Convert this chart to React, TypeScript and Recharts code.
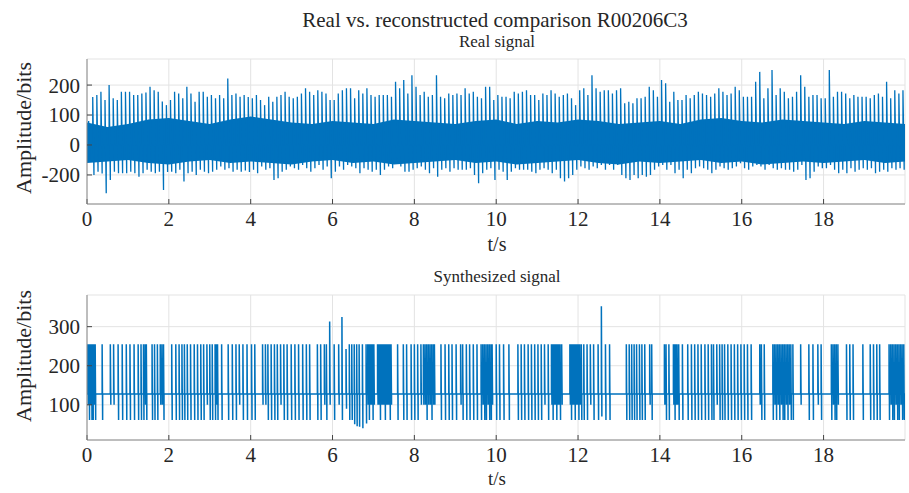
import { Area, CartesianGrid, ComposedChart, Line, XAxis, YAxis } from "recharts";

const BLUE = "#0072BD";
const FONT = "Liberation Serif, Times New Roman, serif";
const TEXT = "#262626";

const xTicks = [0, 2, 4, 6, 8, 10, 12, 14, 16, 18];
const realYTicks = [-100, 0, 100, 200];
const realYTickLabels = ["-200", "0", "100", "200"];
const synthYTicks = [100, 200, 300];

// real signal: one up/down spike pair every 0.1 s
const spikeStep = 0.1;
const realUp = [
  80, 160, 167, 178, 150, 200, 156, 150, 178, 178, 178, 167, 167, 172, 175, 194, 183, 178, 145, 133,
  150, 178, 172, 156, 194, 172, 144, 178, 178, 161, 167, 156, 167, 156, 222, 167, 172, 161, 167, 160,
  156, 167, 150, 133, 161, 144, 161, 167, 178, 161, 156, 161, 172, 189, 178, 167, 183, 178, 172, 150,
  150, 172, 183, 189, 189, 156, 183, 172, 189, 167, 161, 167, 167, 167, 161, 211, 189, 217, 172, 233,
  194, 167, 178, 161, 167, 233, 161, 156, 172, 167, 172, 167, 189, 172, 178, 161, 156, 194, 194, 150,
  167, 161, 161, 156, 178, 172, 178, 183, 167, 167, 150, 172, 167, 183, 172, 161, 167, 172, 156, 133,
  183, 189, 167, 233, 189, 178, 183, 183, 172, 183, 189, 139, 144, 139, 156, 156, 161, 194, 183, 161,
  217, 206, 144, 178, 150, 150, 167, 156, 167, 178, 172, 167, 161, 172, 189, 178, 167, 172, 194, 183,
  161, 161, 161, 211, 244, 156, 189, 250, 167, 189, 178, 156, 161, 178, 233, 194, 161, 167, 167, 156,
  156, 250, 161, 178, 178, 172, 156, 167, 161, 161, 161, 156, 167, 172, 161, 211, 156, 183, 172, 183,
];
const realDown = [
  -50, -100, -89, -95, -161, -117, -89, -94, -94, -94, -89, -94, -106, -94, -83, -89, -94, -89, -150, -90,
  -89, -94, -83, -122, -94, -89, -100, -83, -89, -94, -89, -83, -72, -83, -78, -89, -83, -89, -85, -90,
  -83, -94, -72, -83, -78, -117, -111, -89, -83, -72, -78, -83, -67, -78, -89, -78, -67, -83, -72, -111,
  -89, -72, -83, -67, -72, -78, -94, -78, -83, -89, -83, -100, -83, -72, -78, -56, -72, -89, -89, -83,
  -78, -72, -83, -94, -78, -106, -83, -78, -89, -78, -83, -83, -83, -78, -100, -128, -94, -83, -78, -117,
  -83, -89, -117, -89, -78, -83, -83, -83, -89, -94, -83, -78, -83, -94, -83, -111, -122, -111, -100, -83,
  -72, -78, -83, -72, -78, -67, -83, -67, -83, -67, -100, -111, -117, -100, -111, -100, -106, -100, -83, -72,
  -67, -83, -67, -94, -83, -111, -83, -94, -78, -72, -78, -83, -94, -83, -72, -78, -83, -78, -72, -61,
  -78, -83, -72, -67, -72, -83, -67, -78, -83, -78, -83, -83, -89, -83, -67, -117, -111, -89, -72, -78,
  -78, -67, -83, -94, -83, -94, -78, -89, -83, -78, -83, -78, -94, -89, -83, -89, -78, -83, -78, -83,
];
// dense noise core, sampled every 0.5 s
const bandStep = 0.5;
const bandHigh = [
  75, 60, 70, 85, 90, 80, 70, 85, 95, 85, 75, 70, 80, 75, 70, 85, 80, 75, 70, 80, 85,
  70, 80, 75, 85, 80, 70, 75, 80, 70, 85, 90, 80, 75, 85, 80, 75, 70, 80, 75, 70,
];
const bandLow = [
  -60, -55, -50, -60, -65, -55, -50, -60, -55, -60, -65, -55, -50, -60, -55, -65, -60, -55, -50, -60, -55,
  -65, -60, -55, -50, -60, -65, -55, -60, -55, -50, -60, -55, -65, -60, -55, -60, -55, -50, -60, -55,
];

// synthesized signal: baseline 128, pulses clipped at 255
const synthBase = 128;
const synthHigh = 255;
const synthTimes = [
  0.02, 0.05, 0.08, 0.11, 0.14, 0.17, 0.2,
  0.37, 0.57, 0.65, 0.76, 0.86, 0.96, 1.05, 1.15, 1.25, 1.32, 1.38, 1.42, 1.45, 1.59, 1.65, 1.72, 1.79, 1.83, 1.87,
  2.07, 2.17, 2.25, 2.32, 2.38, 2.45, 2.53, 2.62, 2.7, 2.78, 2.85, 2.93, 3.0, 3.06, 3.13, 3.16, 3.19, 3.29,
  3.45, 3.55, 3.64, 3.72, 3.81, 3.91, 4.02, 4.1,
  4.29, 4.36, 4.42, 4.5, 4.58, 4.65, 4.73, 4.81, 4.89, 4.99, 5.08, 5.17, 5.27, 5.36, 5.44,
  5.63, 5.71, 5.8, 5.85, 5.93, 6.04, 6.15, 6.23, 6.33, 6.41, 6.47, 6.53, 6.59, 6.65, 6.73, 6.82,
  6.86, 6.89, 6.92, 6.95, 6.98, 7.01,
  7.1, 7.13, 7.16, 7.19, 7.22, 7.25, 7.28, 7.31, 7.34, 7.37, 7.4, 7.43,
  7.59, 7.73, 7.81, 7.92, 8.0, 8.08, 8.16,
  8.22, 8.26, 8.3, 8.34, 8.38, 8.42, 8.46, 8.49,
  8.65, 8.75, 8.84, 8.92, 9.02, 9.13, 9.18, 9.27, 9.35, 9.44, 9.53,
  9.63, 9.67, 9.71, 9.75, 9.79, 9.83, 9.87, 9.9,
  10.0, 10.08, 10.18, 10.31,
  10.53, 10.61, 10.69, 10.78, 10.86, 10.94, 11.02, 11.1, 11.18, 11.27,
  11.35, 11.38, 11.41, 11.44, 11.47, 11.5, 11.53, 11.56, 11.6,
  11.8, 11.83, 11.86, 11.89, 11.92, 11.95, 11.98, 12.01, 12.04, 12.08,
  12.14, 12.22, 12.3, 12.38, 12.49, 12.57, 12.67, 12.77,
  13.18, 13.25, 13.31, 13.37, 13.43, 13.5, 13.56, 13.63, 13.75, 13.8,
  14.11, 14.15, 14.22, 14.33, 14.36, 14.39, 14.42, 14.46, 14.55, 14.68, 14.77, 14.85, 14.93, 15.01, 15.1,
  15.18, 15.26, 15.31, 15.39, 15.46, 15.52, 15.58, 15.66, 15.74, 15.82, 15.9, 15.98, 16.06, 16.14, 16.23,
  16.44, 16.48, 16.55,
  16.76, 16.8, 16.84, 16.88, 16.92, 16.96, 17.0, 17.04, 17.08, 17.12, 17.16, 17.2, 17.25,
  17.44, 17.64, 17.74, 17.86, 17.94,
  18.19, 18.23, 18.27, 18.31, 18.35, 18.56, 18.64, 18.72, 18.96, 19.14, 19.22, 19.3, 19.37,
  19.6, 19.64, 19.68, 19.72, 19.76, 19.8, 19.84, 19.88, 19.92, 19.96,
];
const synthLow = [
  100, 61, 100, 61, 61, 100, 61,
  61, 100, 100, 61, 61, 61, 61, 61, 61, 61, 61, 100, 61, 61, 61, 61, 100, 100, 61,
  61, 61, 61, 61, 61, 61, 61, 61, 61, 61, 61, 100, 61, 61, 61, 100, 61, 61,
  61, 61, 61, 100, 61, 61, 61, 61,
  100, 100, 61, 61, 61, 61, 100, 61, 61, 61, 61, 61, 61, 61, 61,
  61, 61, 100, 61, 100, 61, 100, 61, 90, 61, 61, 50, 45, 44, 40, 52,
  100, 61, 100, 100, 61, 100,
  100, 100, 61, 100, 100, 100, 61, 100, 100, 100, 61, 100,
  61, 61, 61, 61, 61, 61, 100,
  100, 100, 61, 100, 100, 61, 100, 100,
  61, 61, 61, 61, 61, 100, 61, 61, 61, 61, 61,
  61, 100, 61, 61, 100, 61, 61, 100,
  61, 61, 61, 61,
  61, 61, 61, 61, 61, 61, 61, 61, 100, 61,
  100, 61, 100, 100, 61, 100, 100, 61, 100,
  100, 61, 100, 100, 61, 100, 100, 61, 100, 61,
  61, 61, 100, 61, 61, 70, 61, 61,
  61, 61, 61, 61, 61, 61, 61, 61, 100, 61,
  100, 61, 61, 100, 61, 100, 100, 61, 61, 61, 61, 61, 61, 61, 61,
  61, 61, 61, 100, 61, 61, 61, 61, 61, 61, 61, 61, 61, 61, 61,
  100, 61, 61,
  61, 100, 61, 100, 61, 100, 61, 61, 100, 61, 100, 61, 61,
  100, 61, 61, 100, 61,
  61, 100, 61, 61, 100, 61, 61, 61, 61, 61, 61, 61, 61,
  61, 100, 61, 61, 100, 61, 61, 100, 61, 61,
];
// pulses that overshoot the 255 clip
const peakTimes = [5.93, 6.23, 6.33, 12.57];
const peakValues = [313, 325, 243, 352];

const X_END = 19.99;

const realLine: { t: number; v: number }[] = [{ t: 0, v: 0 }];
realUp.forEach((up, i) => {
  const t = +(i * spikeStep + 0.04).toFixed(3);
  realLine.push({ t, v: 0 }, { t, v: up }, { t: t + 0.03, v: realDown[i] }, { t: t + 0.03, v: 0 });
});
realLine.push({ t: X_END, v: 0 });

const realBand = bandHigh.map((hi, i) => ({
  t: Math.min(i * bandStep, X_END),
  band: [bandLow[i], hi],
}));

const synthLine: { t: number; v: number }[] = [{ t: 0, v: synthBase }];
synthTimes.forEach((t, i) => {
  const p = peakTimes.indexOf(t);
  const hi = p >= 0 ? peakValues[p] : synthHigh;
  const lo = synthLow[i] ?? 61;
  synthLine.push(
    { t, v: synthBase },
    { t, v: hi },
    { t: t + 0.012, v: lo },
    { t: t + 0.012, v: synthBase }
  );
});
synthLine.push({ t: X_END, v: synthBase });

const tickStyle = { fill: TEXT, fontSize: 21, fontFamily: FONT };

function Frame({ yTicks, yDomain, yLabels }: { yTicks: number[]; yDomain: number[]; yLabels?: string[] }) {
  return [
    <CartesianGrid key="g" stroke="#e3e3e3" strokeWidth={1} />,
    <XAxis
      key="xb"
      xAxisId={0}
      type="number"
      dataKey="t"
      domain={[0, X_END]}
      ticks={xTicks}
      interval={0}
      allowDataOverflow
      height={56}
      tickSize={-5}
      tickMargin={12}
      tick={tickStyle}
      axisLine={{ stroke: "#8a8a8a" }}
      tickLine={{ stroke: "#444" }}
    />,
    <XAxis
      key="xt"
      xAxisId="top"
      orientation="top"
      type="number"
      dataKey="t"
      domain={[0, X_END]}
      ticks={xTicks}
      interval={0}
      allowDataOverflow
      height={0}
      tickSize={-5}
      tick={false}
      axisLine={{ stroke: "#8a8a8a" }}
      tickLine={{ stroke: "#444" }}
    />,
    <YAxis
      key="yl"
      yAxisId={0}
      type="number"
      domain={yDomain}
      ticks={yTicks}
      interval={0}
      allowDataOverflow
      width={87}
      tickSize={-5}
      tickMargin={12}
      tick={tickStyle}
      tickFormatter={(v: number) => (yLabels ? yLabels[yTicks.indexOf(v)] : String(v))}
      axisLine={{ stroke: "#8a8a8a" }}
      tickLine={{ stroke: "#444" }}
    />,
    <YAxis
      key="yr"
      yAxisId="right"
      orientation="right"
      type="number"
      domain={yDomain}
      ticks={yTicks}
      interval={0}
      allowDataOverflow
      width={0}
      tickSize={-5}
      tick={false}
      axisLine={{ stroke: "#8a8a8a" }}
      tickLine={{ stroke: "#444" }}
    />,
  ];
}

const labelStyle = { fontFamily: FONT, fill: TEXT };

export default function App() {
  return (
    <div
      style={{
        position: "absolute",
        left: 0,
        top: 0,
        width: 909,
        height: 493,
        background: "#fff",
        overflow: "hidden",
        fontFamily: FONT,
      }}
    >
      <div style={{ position: "absolute", left: 0, top: 0 }}>
        <ComposedChart width={909} height={260} margin={{ top: 59, right: 4, bottom: 0, left: 0 }}>
          {Frame({ yTicks: realYTicks, yDomain: [-197, 287], yLabels: realYTickLabels })}
          <Area
            data={realBand}
            dataKey="band"
            type="linear"
            stroke="none"
            fill={BLUE}
            fillOpacity={1}
            isAnimationActive={false}
          />
          <Line
            data={realLine}
            dataKey="v"
            type="linear"
            stroke={BLUE}
            strokeWidth={1.3}
            dot={false}
            isAnimationActive={false}
          />
        </ComposedChart>
      </div>
      <div style={{ position: "absolute", left: 0, top: 236 }}>
        <ComposedChart width={909} height={260} margin={{ top: 59, right: 4, bottom: 0, left: 0 }}>
          {Frame({ yTicks: synthYTicks, yDomain: [10, 381] })}
          <Line
            data={synthLine}
            dataKey="v"
            type="linear"
            stroke={BLUE}
            strokeWidth={1.5}
            dot={false}
            isAnimationActive={false}
          />
        </ComposedChart>
      </div>
      <svg width={909} height={493} style={{ position: "absolute", left: 0, top: 0, pointerEvents: "none" }}>
        <text x={495} y={27} fontSize={21} textAnchor="middle" style={labelStyle}>
          Real vs. reconstructed comparison R00206C3
        </text>
        <text x={497} y={47} fontSize={17} textAnchor="middle" style={labelStyle}>
          Real signal
        </text>
        <text x={497} y={251} fontSize={20} textAnchor="middle" style={labelStyle}>
          t/s
        </text>
        <text transform="translate(31,128) rotate(-90)" fontSize={22} textAnchor="middle" style={labelStyle}>
          Amplitude/bits
        </text>
        <text x={497} y={282} fontSize={17} textAnchor="middle" style={labelStyle}>
          Synthesized signal
        </text>
        <text x={497} y={485} fontSize={19} textAnchor="middle" style={labelStyle}>
          t/s
        </text>
        <text transform="translate(31,356) rotate(-90)" fontSize={22} textAnchor="middle" style={labelStyle}>
          Amplitude/bits
        </text>
      </svg>
    </div>
  );
}
